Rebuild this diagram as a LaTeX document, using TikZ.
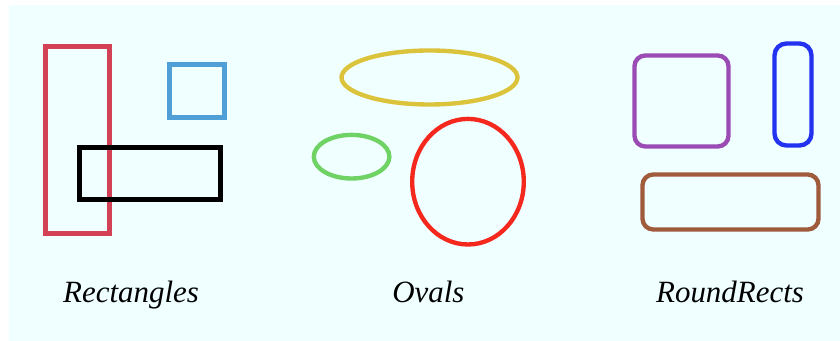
\documentclass[tikz,border=0pt]{standalone}
\usepackage{fontspec}
\setmainfont{Liberation Serif}
\usepackage{tikz}
\usetikzlibrary{shapes.geometric,backgrounds}
\usepackage{xcolor}
\definecolor{bgcyan}{RGB}{240,255,255}
\definecolor{rred}{RGB}{210,65,85}
\definecolor{rblue}{RGB}{80,160,215}
\definecolor{oyellow}{RGB}{220,195,60}
\definecolor{ogreen}{RGB}{110,210,100}
\definecolor{ored}{RGB}{245,40,30}
\definecolor{rrpurple}{RGB}{155,75,180}
\definecolor{rrblue}{RGB}{35,50,240}
\definecolor{rrbrown}{RGB}{160,90,60}

\tikzset{
  shapeline/.style={draw=#1, line width=3.1pt, inner sep=0pt, outer sep=0pt},
  rectshape/.style={shapeline=#1, rectangle},
  ovalshape/.style={shapeline=#1, ellipse},
  rrshape/.style={shapeline=#1, rectangle, rounded corners=0.27cm},
  caption/.style={font=\fontsize{22}{26}\selectfont\itshape, anchor=base}
}

\begin{document}
\begin{tikzpicture}
        \useasboundingbox (0,0) rectangle (21,8.525);
        \fill[bgcyan] (0.225,0) rectangle (21,8.4);
        % Rectangles
        \node[rectshape=rred, minimum width=1.6cm, minimum height=4.675cm]
          (redrect) at (1.9375, 5.025) {};
        \node[rectshape=rblue, minimum width=1.375cm, minimum height=1.325cm]
          (bluesquare) at (4.925, 6.25) {};
        \node[rectshape=black, minimum width=3.525cm, minimum height=1.3cm]
          (blackrect) at (3.75, 4.1875) {};
        \node[caption] (rectlabel) at (3.275, 0.95) {Rectangles};

        % Ovals
        \node[ovalshape=oyellow, minimum width=4.4cm, minimum height=1.35cm]
          (yellowoval) at (10.7375, 6.5875) {};
        \node[ovalshape=ogreen, minimum width=1.89cm, minimum height=1.09cm]
          (greenoval) at (8.79, 4.6075) {};
        \node[ovalshape=ored, minimum width=2.79cm, minimum height=3.14cm]
          (redoval) at (11.7, 3.9825) {};
        \node[caption] (ovallabel) at (10.71, 0.95) {Ovals};

        % RoundRects
        \node[rrshape=rrpurple, minimum width=2.35cm, minimum height=2.275cm]
          (purplerr) at (17.0375, 6.0) {};
        \node[rrshape=rrblue, rounded corners=0.3cm, minimum width=0.925cm,
              minimum height=2.55cm]
          (bluerr) at (19.825, 6.1625) {};
        \node[rrshape=rrbrown, minimum width=4.4cm, minimum height=1.375cm]
          (brownrr) at (18.2625, 3.475) {};
        \node[caption] (rrlabel) at (18.25, 0.95) {RoundRects};
      \end{tikzpicture}
\end{document}
